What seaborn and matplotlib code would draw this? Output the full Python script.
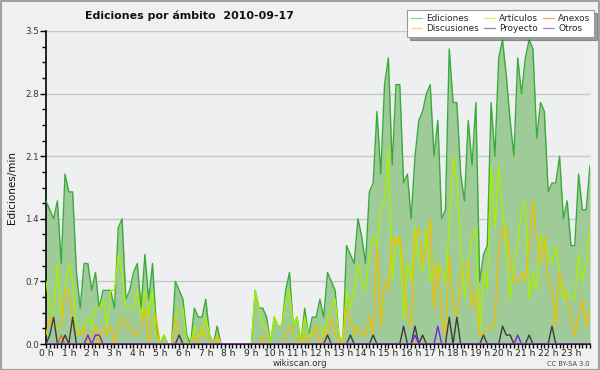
import numpy as np
import pandas as pd
import matplotlib
matplotlib.use("Agg")
import matplotlib.pyplot as plt
from matplotlib.ticker import MultipleLocator, FixedLocator
import seaborn as sns

# ---- data (edits per minute, 10-minute buckets, 144 per day) ----
ediciones = [1.6,1.5,1.4,1.6,0.9,1.9,1.7,1.7,0.8,0.4,
             0.9,0.9,0.6,0.8,0.4,0.6,0.6,0.6,0.4,1.3,
             1.4,0.5,0.6,0.8,0.9,0.4,1.0,0.5,0.9,0.2,
             0,0.1,0,0,0.7,0.6,0.5,0.1,0,0.4,
             0.3,0.3,0.5,0.1,0,0.2,0,0,0,0,
             0,0,0,0,0,0.6,0.4,0.4,0.3,0,
             0.3,0.2,0.2,0.6,0.8,0.2,0.3,0,0.4,0.1,
             0.3,0.3,0.5,0.3,0.8,0.7,0.6,0.1,0,1.1,
             1.0,0.9,1.4,1.2,0.9,1.7,1.8,2.6,1.9,2.9,
             3.2,2.0,2.9,2.9,1.8,1.9,1.4,2.1,2.5,2.6,
             2.8,2.9,2.1,2.5,1.4,1.5,3.3,2.7,2.7,1.9,
             1.6,2.5,2.0,2.7,0.7,1.0,1.1,2.7,2.1,3.2,
             3.4,3.0,2.5,2.1,3.2,2.8,3.2,3.4,3.3,2.3,
             2.7,2.6,1.7,1.8,1.8,2.1,1.4,1.6,1.1,1.1,
             1.9,1.5,1.5,2.0]
articulos = [0.7,0.4,0.3,0.9,0.3,0.6,0.9,0.7,0.2,0.1,
             0.2,0.3,0.2,0.4,0.4,0.5,0.2,0.6,0.6,1.0,
             0.8,0.4,0.4,0.4,0.6,0.3,0.6,0.3,0.6,0.1,
             0,0.1,0,0,0.3,0.4,0.4,0,0,0.2,
             0.1,0.1,0.3,0.1,0,0.1,0,0,0,0,
             0,0,0,0,0,0.6,0.4,0.2,0.2,0,
             0.3,0.2,0.2,0.5,0.6,0.2,0.3,0,0.3,0.1,
             0.1,0.2,0.2,0.1,0.3,0.4,0.5,0.1,0,0.6,
             0.4,0.6,0.9,0.7,0.6,1.0,1.2,1.1,1.5,1.6,
             2.2,0.7,1.2,1.1,0.3,0.9,0.7,1.3,0.9,0.8,
             1.3,0.7,0.8,0.9,0.8,0.7,1.3,2.1,1.8,1.1,
             0.5,0.9,1.2,1.3,0.1,0.8,0.6,2.0,1.3,2.0,
             1.5,1.1,0.5,0.9,1.1,1.5,1.6,0.5,0.8,0.6,
             1.2,1.2,1.0,0.9,1.1,0.8,0.5,0.6,0.5,0.5,
             1.0,0.7,0.9,1.3]
discusiones = [0.1,0.3,0.2,0.2,0.2,0.6,0.6,0.2,0.1,0.1,
               0.2,0,0.1,0.2,0,0.2,0.1,0.2,0,0.2,
               0.3,0.2,0.2,0.1,0.1,0.2,0.4,0,0.3,0.3,
               0,0,0,0,0.3,0.1,0,0,0,0.1,
               0,0.2,0.1,0,0,0.1,0,0,0,0,
               0,0,0,0,0,0,0,0.1,0,0,
               0,0,0,0.1,0.2,0.1,0,0,0.1,0,
               0.1,0.2,0,0.1,0.1,0.3,0.1,0,0,0.4,
               0.3,0.1,0.2,0.1,0.1,0.3,0.1,1.1,0.2,0.7,
               0.6,1.2,1.1,1.2,0.8,0.3,0.2,1.2,1.3,0.9,
               1.1,1.4,0.4,0.9,0.3,0.1,1.0,0.4,0.3,0.8,
               0.9,0.9,0.4,0.6,0.1,0.1,0.2,0.2,0.2,1.1,
               1.3,1.3,0.9,0.7,0.7,0.8,0.7,1.1,1.6,1.2,
               0.9,1.2,0.7,0.6,0.2,0.8,0.6,0.5,0.3,0.1,
               0.3,0.5,0.2,0.4]
proyecto_idx = [1, 2, 5, 7, 35, 74, 80, 86, 94, 97, 99, 106, 108, 115, 120, 121, 122, 127, 133]
proyecto_val = [0.1, 0.3, 0.1, 0.3, 0.1, 0.1, 0.1, 0.1, 0.2, 0.2, 0.1, 0.3, 0.3, 0.1, 0.2, 0.1, 0.1, 0.1, 0.2]
otros_idx = [11, 13, 14, 97, 103, 124]
otros_val = [0.1, 0.1, 0.1, 0.1, 0.2, 0.1]
anexos_idx = [4]
anexos_val = [0.1]
hour_labels = [f"{h} h" for h in range(24)]

n = len(ediciones)
def sparse(idx, vals):
    arr = [0.0] * n
    for i, v in zip(idx, vals):
        arr[i] = v
    return arr

proyecto = sparse(proyecto_idx, proyecto_val)
otros = sparse(otros_idx, otros_val)
anexos = sparse(anexos_idx, anexos_val)

df = pd.DataFrame({
    "t": np.arange(n),
    "Ediciones": ediciones,
    "Artículos": articulos,
    "Anexos": anexos,
    "Discusiones": discusiones,
    "Proyecto": proyecto,
    "Otros": otros,
})

colors = {
    "Ediciones": "#3aab3a",
    "Artículos": "#aaee00",
    "Anexos": "#f06a28",
    "Discusiones": "#f0c000",
    "Proyecto": "#3c3c3c",
    "Otros": "#7a22e6",
}

sns.set_theme(style="white")
plt.rcParams["font.family"] = ["DejaVu Sans"]

fig = plt.figure(figsize=(6, 3.7), dpi=100)
fig.patch.set_facecolor("#f0f0f0")
ax = fig.add_axes([46/600, 1-344/370, 544/600, 313/370])
ax.set_facecolor("#eeeff1")

ax.fill_between(df["t"], df["Ediciones"], 0, color="#9fcb99", zorder=1, linewidth=0)
order = ["Ediciones", "Artículos", "Anexos", "Discusiones", "Proyecto", "Otros"]
for name in order:
    sns.lineplot(data=df, x="t", y=name, ax=ax, color=colors[name], linewidth=1.0,
                 zorder=3, label=name, legend=False)

ax.set_xlim(0, n - 1)
ax.set_ylim(0, 3.5)
ax.xaxis.set_major_locator(FixedLocator(np.arange(0, n, 6)))
ax.set_xticklabels(hour_labels, fontsize=6.6, color="#222222")
ax.xaxis.set_minor_locator(MultipleLocator(1))
ax.yaxis.set_minor_locator(MultipleLocator(0.175))
ax.set_yticks([0, 0.7, 1.4, 2.1, 2.8, 3.5])
ax.set_yticklabels(["0.0", "0.7", "1.4", "2.1", "2.8", "3.5"], fontsize=6.3, color="#333333")
ax.tick_params(axis="x", which="major", direction="out", length=3, width=1, color="black", pad=0.3)
ax.tick_params(axis="x", which="minor", direction="out", length=3, width=1, color="black")
ax.tick_params(axis="y", which="major", direction="out", length=4, width=1, color="black", pad=1)
ax.tick_params(axis="y", which="minor", direction="out", length=3, width=1, color="black")
ax.tick_params(axis="both", which="both", bottom=True, left=True)
ax.grid(axis="y", which="major", color="#c8c8c8", linewidth=1, zorder=0)
ax.set_axisbelow(True)
for s in ["top", "right"]:
    ax.spines[s].set_visible(False)
for s in ["left", "bottom"]:
    ax.spines[s].set_color("black")
    ax.spines[s].set_linewidth(1.2)
ax.set_xlabel("")
ax.set_ylabel("Ediciones/min", fontsize=7.5, color="#111111", labelpad=6)

fig.text(0.142, 0.958, "Ediciones por ámbito  2010-09-17", fontsize=7.9, fontweight="bold",
         ha="left", va="center", color="#111111")
fig.text(0.5, 0.0175, "wikiscan.org", fontsize=6.3, ha="center", va="center", color="#333333")
fig.text(0.983, 0.0175, "CC BY-SA 3.0", fontsize=4.8, ha="right", va="center", color="#444444")

handles, labels = ax.get_legend_handles_labels()
hmap = dict(zip(labels, handles))
leg_order = ["Ediciones", "Discusiones", "Artículos", "Proyecto", "Anexos", "Otros"]
leg = fig.legend([hmap[k] for k in leg_order], leg_order, loc="upper right",
                 bbox_to_anchor=(0.99, 0.972), ncol=3, fontsize=6.4, frameon=True,
                 fancybox=False, shadow=True, handlelength=1.3, handletextpad=0.45,
                 columnspacing=0.5, labelspacing=0.15, borderpad=0.4,
                 borderaxespad=0.0)
leg.get_frame().set_facecolor("white")
leg.get_frame().set_edgecolor("#999999")
leg.get_frame().set_linewidth(0.8)
for line in leg.get_lines():
    line.set_linewidth(0.9)
    line.set_alpha(0.6)

fig.add_artist(plt.Rectangle((0.001, 0.001), 0.997, 0.997, transform=fig.transFigure,
                             fill=False, edgecolor="#a0a0a0", linewidth=1.5))

fig.savefig("out.png", dpi=100, facecolor=fig.get_facecolor())
